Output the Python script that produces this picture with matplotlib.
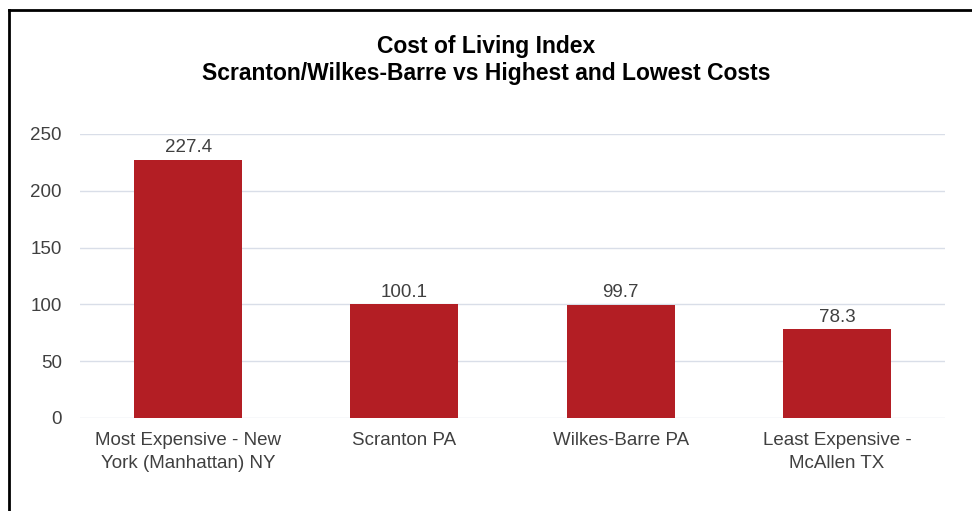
import matplotlib.pyplot as plt
from matplotlib.lines import Line2D

plt.rcParams['font.family'] = ['Liberation Sans', 'DejaVu Sans']

categories = ['Most Expensive - New\nYork (Manhattan) NY', 'Scranton PA',
              'Wilkes-Barre PA', 'Least Expensive -\nMcAllen TX']
values = [227.4, 100.1, 99.7, 78.3]
yticks = [0, 50, 100, 150, 200, 250]

fig = plt.figure(figsize=(9.72, 5.11), dpi=100)
ax = fig.add_axes([0.0823, 0.182, 0.890, 0.556])

bars = ax.bar(range(len(values)), values, width=0.5, color='#B31E24', zorder=3)
for b, v in zip(bars, values):
    ax.text(b.get_x() + b.get_width() / 2, v + 3, f'{v:.1f}', ha='center', va='bottom',
            fontsize=13.5, color='#404040')

ax.set_xlim(-0.5, 3.5)
ax.set_ylim(0, 250)
ax.set_yticks(yticks)
ax.set_xticks(range(len(categories)))
ax.set_xticklabels(categories, fontsize=13.5, color='#404040', linespacing=1.45)
ax.tick_params(axis='y', labelsize=13.5, labelcolor='#404040', length=0, pad=13)
ax.tick_params(axis='x', length=0, pad=10)
ax.grid(axis='y', color='#D9DEE8', linewidth=1, zorder=0)
for s in ax.spines.values():
    s.set_visible(False)

fig.text(0.5, 0.909, 'Cost of Living Index', ha='center', va='center',
         fontsize=16.5, fontweight='bold')
fig.text(0.5, 0.856, 'Scranton/Wilkes-Barre vs Highest and Lowest Costs', ha='center',
         va='center', fontsize=16.5, fontweight='bold')

# outer frame (top and left edges only visible)
fig.add_artist(Line2D([0.0093, 1.0], [1 - 10 / 511, 1 - 10 / 511], color='black', lw=2,
                      transform=fig.transFigure))
fig.add_artist(Line2D([0.0093, 0.0093], [1 - 10 / 511, 0], color='black', lw=2,
                      transform=fig.transFigure))

fig.savefig('out.png', dpi=100)
